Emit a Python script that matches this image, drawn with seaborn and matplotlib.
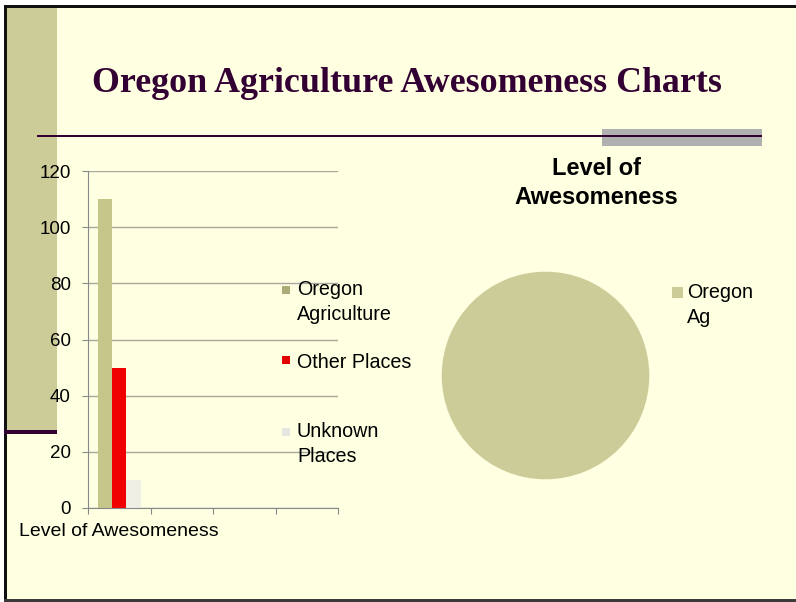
"""Oregon agriculture slide: clustered bar chart plus a one-slice pie"""
import pandas as pd
import seaborn as sns
import matplotlib.pyplot as plt
from matplotlib.patches import Rectangle

# data
categories = ["Level of Awesomeness", "", " ", "  "]
series = ["Oregon Agriculture", "Other Places", "Unknown Places"]
values = [110, 50, 10]
legend_labels = ["Oregon\nAgriculture", "Other Places", "Unknown\nPlaces"]
y_ticks = [0, 20, 40, 60, 80, 100, 120]

pie_labels = ["Oregon\nAg"]
pie_values = [100]

bar_colors = ["#C6C68A", "#F00000", "#EFEFE6"]
legend_colors = ["#ABAB78", "#E00000", "#E6E6E0"]
pie_colors = ["#CCCC99"]

W, H = 796, 602
BG = "#FFFFE1"
PURPLE = "#330033"

plt.rcParams['font.family'] = ['Liberation Sans', 'DejaVu Sans']


def fx(x):
    return x / W


def fy(y):
    return 1 - y / H


def box(fig, x0, y0, x1, y1, color, z=-1):
    """rectangle given in pixel coords (top-left origin)"""
    fig.patches.append(Rectangle((fx(x0), fy(y1)), (x1 - x0) / W,
                                 (y1 - y0) / H, transform=fig.transFigure,
                                 facecolor=color, edgecolor='none', zorder=z))


fig = plt.figure(figsize=(W / 100, H / 100), dpi=100, facecolor=BG)

# slide decorations (kept below the axes so tick labels sit on top)
box(fig, 0, 0, W, 5, "white", -3)
box(fig, 0, 0, 4, H, "white", -3)
box(fig, 4, 5, W, 8, "#111111")
box(fig, 4, 5, 7, H, "#111111")
box(fig, 4, 599, W, H, "#3A3A3A")
box(fig, 7, 8, 57, 430, "#CCCC99")
box(fig, 4, 430, 57, 434, PURPLE)
box(fig, 602, 129, 762, 146, "#B0B0B0", -2)
box(fig, 37, 135, 762, 137, PURPLE)

fig.text(fx(406.5), fy(92.5), "Oregon Agriculture Awesomeness Charts",
         ha='center', va='baseline', fontsize=25.8, fontweight='bold',
         color=PURPLE, family=['Liberation Serif', 'DejaVu Serif'])

# bar chart
df = pd.DataFrame({"category": [categories[0]] * len(series),
                   "series": series, "value": values})
ax = fig.add_axes([fx(88), fy(508), 250 / W, 337 / H])
ax.set_facecolor('none')
sns.barplot(data=df, x="category", y="value", hue="series", order=categories,
            hue_order=series, palette=bar_colors, width=0.69, saturation=1,
            legend=False, ax=ax, linewidth=0)
ax.set_xlim(-0.5, len(categories) - 0.5)
ax.set_ylim(0, 120)
ax.set_yticks(y_ticks)
ax.set_yticklabels([str(v) for v in y_ticks])
ax.set_xticks([i - 0.5 for i in range(len(categories) + 1)])
ax.set_xticklabels([])
ax.set_xticks([0], labels=[categories[0]], minor=True)
ax.tick_params(axis='x', which='major', length=4, color='#888888')
ax.tick_params(axis='x', which='minor', length=0, pad=11, labelsize=14)
ax.tick_params(axis='y', length=4.5, color='#888888', pad=8, labelsize=13.5)
ax.yaxis.grid(True, color='#A8A8A0', linewidth=1)
ax.set_axisbelow(True)
for side in ['top', 'right']:
    ax.spines[side].set_visible(False)
for side in ['left', 'bottom']:
    ax.spines[side].set_color('#888888')
ax.set_xlabel("")
ax.set_ylabel("")

# legend of the bar chart (entries on an even 71 px pitch)
leg_y = [302, 362, 444]
leg_sq = [290, 360, 432]
for lab, col, ty, sy in zip(legend_labels, legend_colors, leg_y, leg_sq):
    box(fig, 282, sy - 4, 290, sy + 4, col, 3)
    fig.text(fx(297), fy(ty), lab, ha='left', va='center', fontsize=14.2,
             linespacing=1.35)

# pie chart
pax = fig.add_axes([fx(441.7), fy(479.3), 207.6 / W, 207.6 / H])
pax.pie(pie_values, colors=pie_colors, startangle=90,
        wedgeprops={'linewidth': 0})
pax.set_xlim(-1, 1)
pax.set_ylim(-1, 1)
pax.set_facecolor('none')

fig.text(fx(596), fy(183), "Level of\nAwesomeness", ha='center',
         va='center', fontsize=17, fontweight='bold', linespacing=1.38)
box(fig, 672, 287, 683, 298, pie_colors[0], 3)
fig.text(fx(687), fy(305), pie_labels[0], ha='left', va='center',
         fontsize=14.2, linespacing=1.35)

fig.savefig("out.png", dpi=100, facecolor=BG)
